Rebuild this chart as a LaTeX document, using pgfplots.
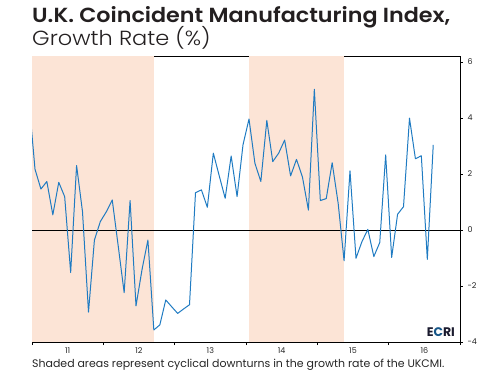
\documentclass[border=0pt]{standalone}
\usepackage{fontspec}
\setmainfont{Poppins}
\newfontfamily\titlefont{Poppins}[UprightFont=* SemiBold]
\newfontfamily\subfont{Poppins}[UprightFont=* Light]
\usepackage{pgfplots}
\pgfplotsset{compat=1.18}
\usepackage{pgfplotstable}
\definecolor{lineblue}{HTML}{1F7BC2}
\definecolor{peach}{HTML}{FCE4D6}
\definecolor{ecrinavy}{HTML}{1A1A2E}
\definecolor{titlegray}{HTML}{231F20}
\pgfplotstableread{
t v
2010.958 4.61
2011.042 2.17
2011.125 1.46
2011.208 1.73
2011.292 0.54
2011.375 1.70
2011.458 1.19
2011.542 -1.52
2011.625 2.30
2011.708 0.65
2011.792 -2.93
2011.875 -0.36
2011.958 0.30
2012.042 0.65
2012.125 1.07
2012.208 -0.56
2012.292 -2.24
2012.375 1.05
2012.458 -2.71
2012.542 -1.42
2012.625 -0.36
2012.708 -3.57
2012.792 -3.39
2012.875 -2.50
2012.958 -2.74
2013.042 -2.98
2013.125 -2.82
2013.208 -2.67
2013.292 1.33
2013.375 1.43
2013.458 0.81
2013.542 2.74
2013.625 1.93
2013.708 1.13
2013.792 2.64
2013.875 1.19
2013.958 3.04
2014.042 3.96
2014.125 2.38
2014.208 1.73
2014.292 3.91
2014.375 2.44
2014.458 2.74
2014.542 3.21
2014.625 1.93
2014.708 2.52
2014.792 1.88
2014.875 0.71
2014.958 5.02
2015.042 1.05
2015.125 1.12
2015.208 2.40
2015.292 0.95
2015.375 -1.10
2015.458 2.11
2015.542 -1.01
2015.625 -0.42
2015.708 0.02
2015.792 -0.95
2015.875 -0.45
2015.958 2.68
2016.042 -0.98
2016.125 0.56
2016.208 0.83
2016.292 3.99
2016.375 2.54
2016.458 2.65
2016.542 -1.05
2016.625 3.04
}\ukcmi
\begin{document}
\begin{tikzpicture}
\path[use as bounding box] (0bp,0bp) rectangle (495bp,375bp);
\begin{axis}[
  at={(32bp,33bp)}, anchor=south west,
  scale only axis, width=428bp, height=286bp,
  xmin=2011, xmax=2017, ymin=-4, ymax=6.21,
  axis line style={black, line width=0.9pt},
  xtick={2011,2012,2013,2014,2015,2016,2017},
  x tick label as interval,
  xticklabels={11,12,13,14,15,16},
  xtick pos=bottom,
  ytick={-4,-2,0,2,4,6},
  yticklabels={-4,-2,0,2,4,6},
  ytick pos=right,
  yticklabel pos=right,
  tick align=outside,
  major tick length=3bp,
  tick style={black, line width=0.6pt},
  ticklabel style={font=\fontsize{8}{9}\selectfont, text=black!85},
  xticklabel style={yshift=1bp},
  yticklabel style={xshift=1bp},
  clip=true,
]
\addplot[fill=peach, draw=none] coordinates {(2010.5,-4) (2012.708,-4) (2012.708,6.21) (2010.5,6.21)} -- cycle;
\addplot[fill=peach, draw=none] coordinates {(2014.042,-4) (2015.375,-4) (2015.375,6.21) (2014.042,6.21)} -- cycle;
\addplot[black, line width=0.8pt] coordinates {(2010,0) (2018,0)};
\addplot[lineblue, line width=1pt, line join=round] table[x=t,y=v] {\ukcmi};
\end{axis}
\node[anchor=base west, inner sep=0] at (32bp,352.3bp) {\scalebox{1.09}[1]{\fontsize{20.5}{22}\selectfont\titlefont\color{titlegray}U.K. Coincident Manufacturing Index,}};
\node[anchor=base west, inner sep=0] at (32bp,329bp) {\scalebox{1.1}[1]{\fontsize{20.5}{22}\selectfont\subfont\color{titlegray}Growth Rate (\%)}};
\node[anchor=base east, inner sep=0] at (455bp,38.3bp) {\fontsize{12.5}{13}\selectfont\bfseries\color{ecrinavy}E\textcolor{lineblue!70!black}{C}RI};
\node[anchor=base west, inner sep=0] at (32bp,8bp) {\fontsize{11}{12}\selectfont\color{black!85}Shaded areas represent cyclical downturns in the growth rate of the UKCMI.};
\end{tikzpicture}
\end{document}
